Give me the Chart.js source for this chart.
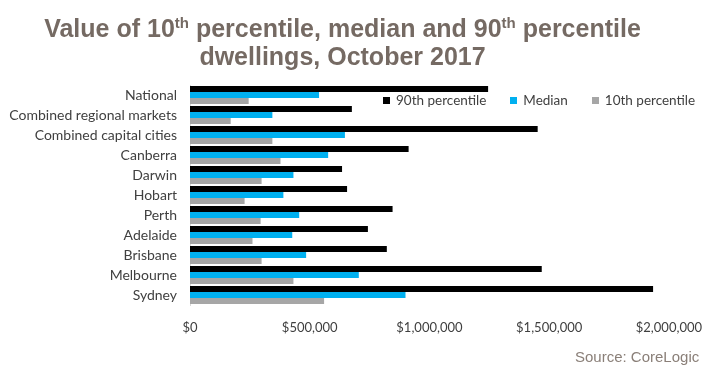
<!DOCTYPE html>
<html>
<head>
<meta charset="utf-8">
<script src="https://cdn.jsdelivr.net/npm/chart.js@4/dist/chart.umd.min.js"></script>
<style>
  body { margin: 0; background: #fff; }
  #wrap { position: relative; width: 717px; height: 372px; overflow: hidden; }
  #chart { position: absolute; left: 0; top: 0; }
  #title {
    position: absolute; left: 0; top: 14px; width: 685px;
    text-align: center; color: #756a63;
    font: bold 25px/28px "Liberation Sans Narrow", "Liberation Sans", Arial, sans-serif;
  }
  #title sup { font-size: 15px; vertical-align: 9px; line-height: 0; }
  #legend {
    position: absolute; left: 383px; top: 92px; display: flex; white-space: nowrap;
    font: 13.5px Lato, "Liberation Sans", sans-serif; color: #404040;
  }
  #legend .item { display: flex; align-items: center; margin-right: 24px; }
  #legend .box { width: 7px; height: 7px; margin-right: 6px; }
  #source {
    position: absolute; left: 575px; top: 348px; color: #8a7f78;
    font: 15px "Liberation Sans", Arial, sans-serif;
  }
</style>
</head>
<body>
<div id="wrap">
  <canvas id="chart" width="717" height="372"></canvas>
  <div id="title">Value of 10<sup>th</sup> percentile, median and 90<sup>th</sup> percentile<br>dwellings, October 2017</div>
  <div id="legend"></div>
  <div id="source">Source: CoreLogic</div>
</div>
<script>
// 데이터
const regions = ['National', 'Combined regional markets', 'Combined capital cities', 'Canberra',
  'Darwin', 'Hobart', 'Perth', 'Adelaide', 'Brisbane', 'Melbourne', 'Sydney'];
const p90 = [1245000, 676000, 1452000, 913000, 635000, 656000, 846000, 743000, 822000, 1469000, 1934000];
const median = [539000, 344000, 647000, 577000, 432000, 390000, 456000, 427000, 485000, 705000, 900000];
const p10 = [245000, 170000, 344000, 378000, 299000, 228000, 295000, 261000, 299000, 432000, 560000];
const seriesNames = ['90th percentile', 'Median', '10th percentile'];
const seriesColors = ['#000000', '#00b0f0', '#a6a6a6'];
const xTickLabels = ['$0', '$500,000', '$1,000,000', '$1,500,000', '$2,000,000'];

const fontFamily = 'Lato, "Liberation Sans", sans-serif';

const datasets = [p90, median, p10].map((values, i) => ({
  label: seriesNames[i],
  data: values,
  backgroundColor: seriesColors[i],
  barPercentage: 1.0,
  categoryPercentage: 0.9
}));

const chart = new Chart(document.getElementById('chart'), {
  type: 'bar',
  data: { labels: regions, datasets: datasets },
  options: {
    indexAxis: 'y',
    responsive: false,
    animation: false,
    layout: { padding: { top: 85, right: 45, bottom: 0, left: 0 } },
    plugins: {
      legend: { display: false },
      tooltip: { enabled: false }
    },
    scales: {
      x: {
        min: 0,
        max: 2000000,
        grid: { display: false, drawTicks: false },
        border: { display: false },
        ticks: {
          stepSize: 500000,
          padding: 15,
          color: '#404040',
          font: { family: fontFamily, size: 13 },
          callback: (value, index) => xTickLabels[index]
        },
        afterFit: (scale) => { scale.height = 67; }
      },
      y: {
        grid: { display: false, drawTicks: false },
        border: { display: true, color: '#d9d9d9', width: 1 },
        ticks: { padding: 13, color: '#404040', font: { family: fontFamily, size: 14 }, autoSkip: false },
        afterFit: (scale) => { scale.width = 190; }
      }
    }
  }
});

// 범례 (차트 영역 안에 겹쳐서 표시)
const legendEl = document.getElementById('legend');
legendEl.innerHTML = chart.data.datasets
  .map((ds) => `<div class="item"><span class="box" style="background:${ds.backgroundColor}"></span>${ds.label}</div>`)
  .join('');
</script>
</body>
</html>
